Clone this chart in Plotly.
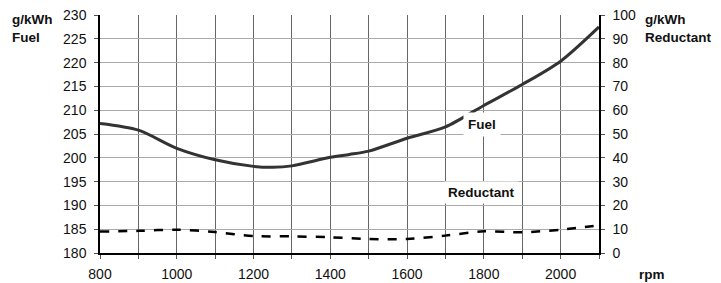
import plotly.graph_objects as go

rpm = [800, 900, 1000, 1100, 1200, 1250, 1300, 1400, 1450, 1500, 1600, 1700, 1800, 1900, 2000, 2100]
fuel = [207.2, 205.8, 202.0, 199.6, 198.2, 198.0, 198.3, 200.1, 200.7, 201.4, 204.1, 206.5, 211.0, 215.4, 220.3, 227.5]

rpm_red = [800, 900, 1000, 1100, 1200, 1300, 1400, 1500, 1600, 1700, 1800, 1900, 2000, 2100]
reductant = [9.0, 9.3, 9.8, 8.8, 7.1, 7.0, 6.6, 5.9, 5.9, 7.3, 9.1, 8.7, 9.8, 11.6]

x_ticks = [800, 1000, 1200, 1400, 1600, 1800, 2000]
fuel_ticks = list(range(180, 231, 5))
red_ticks = list(range(0, 101, 10))

font = "Liberation Sans, Arial, sans-serif"

fig = go.Figure()
fig.add_trace(go.Scatter(x=rpm, y=fuel, mode="lines", line=dict(color="#333333", width=3, shape="spline", smoothing=0.8),
                         showlegend=False, hoverinfo="skip"))
fig.add_trace(go.Scatter(x=rpm_red, y=reductant, mode="lines", yaxis="y2",
                         line=dict(color="#000000", width=2.5, dash="dash", shape="spline", smoothing=0.8),
                         showlegend=False, hoverinfo="skip"))

L, R, T, B = 100, 599, 15, 253
W = R - L
H = B - T

def px(x):
    return (x - L) / W

def py(y):
    return (B - y) / H

TF = 14
LF = 13.5

fig.update_layout(
    width=721, height=283,
    margin=dict(l=L, r=721 - R, t=T, b=283 - B, autoexpand=False),
    paper_bgcolor="white", plot_bgcolor="white",
    font=dict(family=font, size=TF, color="#111"),
    xaxis=dict(range=[800, 2100], tickvals=x_ticks, ticks="outside", ticklen=4, tickcolor="#555",
               showline=True, linecolor="black", linewidth=1.5, ticklabelstandoff=3,
               showgrid=True, gridcolor="#666", gridwidth=1,
               minor=dict(dtick=100, tick0=800, showgrid=True, gridcolor="#666", ticks="outside", ticklen=4, tickcolor="#555"),
               zeroline=False, tickfont=dict(size=TF), automargin=False),
    yaxis=dict(range=[180, 230], tickvals=fuel_ticks, ticks="outside", ticklen=4, tickcolor="#555",
               showline=True, linecolor="black", linewidth=1.5, ticklabelstandoff=5,
               showgrid=True, gridcolor="#aaaaaa", gridwidth=1, zeroline=False, tickfont=dict(size=TF), automargin=False),
    yaxis2=dict(range=[0, 100], tickvals=red_ticks, overlaying="y", side="right", ticks="outside", ticklen=4,
                tickcolor="#555", showline=True, linecolor="black", linewidth=1.5, showgrid=False, zeroline=False,
                ticklabelstandoff=5, tickfont=dict(size=TF), automargin=False),
)

fig.add_annotation(text="<b>g/kWh<br>Fuel</b>", x=px(10), y=py(10), xref="paper", yref="paper", showarrow=False,
                   align="left", xanchor="left", yanchor="top", font=dict(size=LF, color="#111"))
fig.add_annotation(text="<b>g/kWh<br>Reductant</b>", x=px(643), y=py(10), xref="paper", yref="paper",
                   showarrow=False, align="left", xanchor="left", yanchor="top", font=dict(size=LF, color="#111"))
fig.add_annotation(text="<b>rpm</b>", x=px(652), y=py(274), xref="paper", yref="paper",
                   showarrow=False, xanchor="center", yanchor="middle", font=dict(size=LF, color="#111"))
fig.add_annotation(text="<b>Fuel</b>", x=1795, y=207.0, xref="x", yref="y", showarrow=False,
                   font=dict(size=LF, color="#111"), bgcolor="white", borderpad=4)
fig.add_annotation(text="<b>Reductant</b>", x=1795, y=192.7, xref="x", yref="y", showarrow=False,
                   font=dict(size=LF, color="#111"), bgcolor="white", borderpad=3)

fig.write_html("out.html", config={"displayModeBar": False},
               post_script="document.body.style.margin='0';document.body.style.overflow='hidden';")
